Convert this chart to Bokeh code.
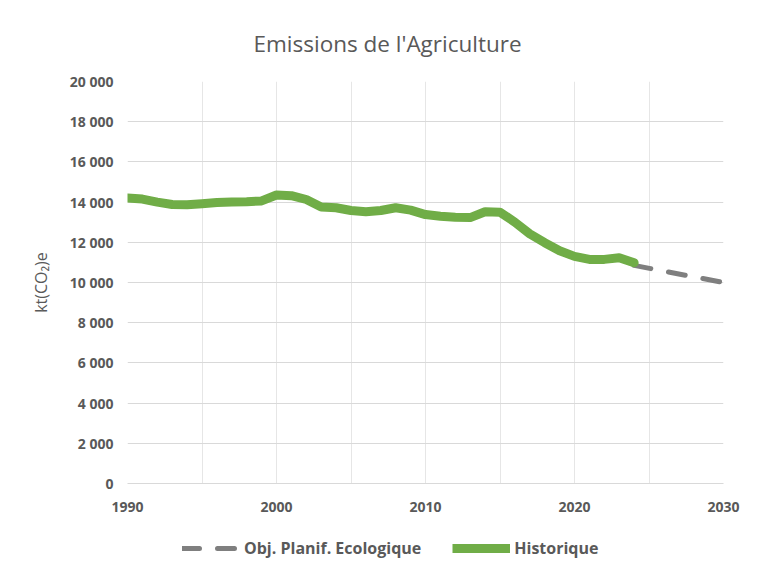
from bokeh.plotting import figure
from bokeh.layouts import column
from bokeh.models import FixedTicker, Legend, LegendItem, Title, Range1d
from bokeh.embed import file_html
from bokeh.resources import INLINE

# ---- data ----
hist_years = list(range(1990, 2025))
hist_values = [14200, 14150, 14000, 13880, 13870, 13920, 13980, 14010, 14020, 14060,
               14350, 14320, 14130, 13760, 13720, 13580, 13520, 13580, 13720, 13600,
               13380, 13300, 13250, 13230, 13520, 13500, 13000, 12420, 11980, 11580,
               11300, 11150, 11150, 11230, 10980]
obj_years = [2024, 2030]
obj_values = [10850, 10000]

y_ticks = [0, 2000, 4000, 6000, 8000, 10000, 12000, 14000, 16000, 18000, 20000]
y_tick_labels = ["0", "2 000", "4 000", "6 000", "8 000", "10 000", "12 000",
                 "14 000", "16 000", "18 000", "20 000"]
x_ticks = [1990, 2000, 2010, 2020, 2030]
x_minor = [1995, 2005, 2015, 2025]

title_text = "Emissions de l'Agriculture"
y_label = "kt(CO\u2082)e"
legend_labels = ["Obj. Planif. Ecologique", "Historique"]

FONT = "Open Sans"
GRAY_TXT = "#595959"
GREEN = "#70ad47"
DASH_GRAY = "#7f7f7f"

p = figure(width=741, height=514, output_backend="svg", toolbar_location=None,
           x_range=(1990, 2030), y_range=(0, 20000),
           min_border_left=127, min_border_right=18, min_border_top=81,
           min_border_bottom=30)
p.title = Title(text=title_text, align="left", offset=126, text_font=FONT,
                text_font_size="22.5px", text_color=GRAY_TXT,
                text_font_style="normal", standoff=45)
p.outline_line_color = None
p.background_fill_color = "white"
p.border_fill_color = "white"

# axes
p.yaxis.ticker = FixedTicker(ticks=y_ticks)
p.yaxis.major_label_overrides = {t: l for t, l in zip(y_ticks, y_tick_labels)}
p.yaxis.axis_line_color = None
p.yaxis.major_tick_line_color = None
p.yaxis.minor_tick_line_color = None
p.yaxis.major_label_standoff = 8
p.yaxis.axis_label = y_label
p.yaxis.axis_label_text_font = FONT
p.yaxis.axis_label_text_font_size = "16px"
p.yaxis.axis_label_text_font_style = "normal"
p.yaxis.axis_label_text_color = GRAY_TXT
p.yaxis.axis_label_standoff = 15

p.xaxis.ticker = FixedTicker(ticks=x_ticks, minor_ticks=x_minor)
p.xaxis.axis_line_color = "#d9d9d9"
p.xaxis.major_tick_line_color = None
p.xaxis.minor_tick_line_color = None
p.xaxis.major_label_standoff = 12

for ax in (p.xaxis[0], p.yaxis[0]):
    ax.major_label_text_font = FONT
    ax.major_label_text_font_size = "14px"
    ax.major_label_text_color = GRAY_TXT
    ax.major_label_text_font_style = "bold"

p.ygrid.grid_line_color = "#d9d9d9"
p.xgrid.grid_line_color = "#e6e6e6"
p.xgrid.minor_grid_line_color = "#e6e6e6"

# series
p.line(obj_years, obj_values, line_color=DASH_GRAY, line_width=5,
       line_dash="17 18", line_cap="round")
p.line(hist_years, hist_values, line_color=GREEN, line_width=9,
       line_join="round", line_cap="round")

# legend strip (separate small canvas below the chart; its series lie outside its view)
lg = figure(width=741, height=50, output_backend="svg", toolbar_location=None,
            x_range=Range1d(0, 1), y_range=Range1d(0, 1),
            min_border_left=0, min_border_right=0, min_border_top=0, min_border_bottom=0)
lg.axis.visible = False
lg.grid.visible = False
lg.outline_line_color = None
lg.border_fill_color = "white"
k_obj = lg.line(obj_years, obj_values, line_color=DASH_GRAY, line_width=5,
                line_dash="17 18", line_cap="round")
k_hist = lg.line(hist_years, hist_values, line_color=GREEN, line_width=9)
legend = Legend(items=[LegendItem(label=legend_labels[0], renderers=[k_obj]),
                       LegendItem(label=legend_labels[1], renderers=[k_hist])],
                orientation="horizontal", location=(55, 5),
                glyph_width=58, glyph_height=16, label_standoff=4, spacing=31,
                padding=4, border_line_color=None,
                background_fill_alpha=0,
                label_text_font=FONT, label_text_font_size="16px",
                label_text_color=GRAY_TXT, label_text_font_style="bold")
lg.add_layout(legend, "center")

layout = column(p, lg, spacing=0)
open("out.html", "w").write(file_html(layout, INLINE))
